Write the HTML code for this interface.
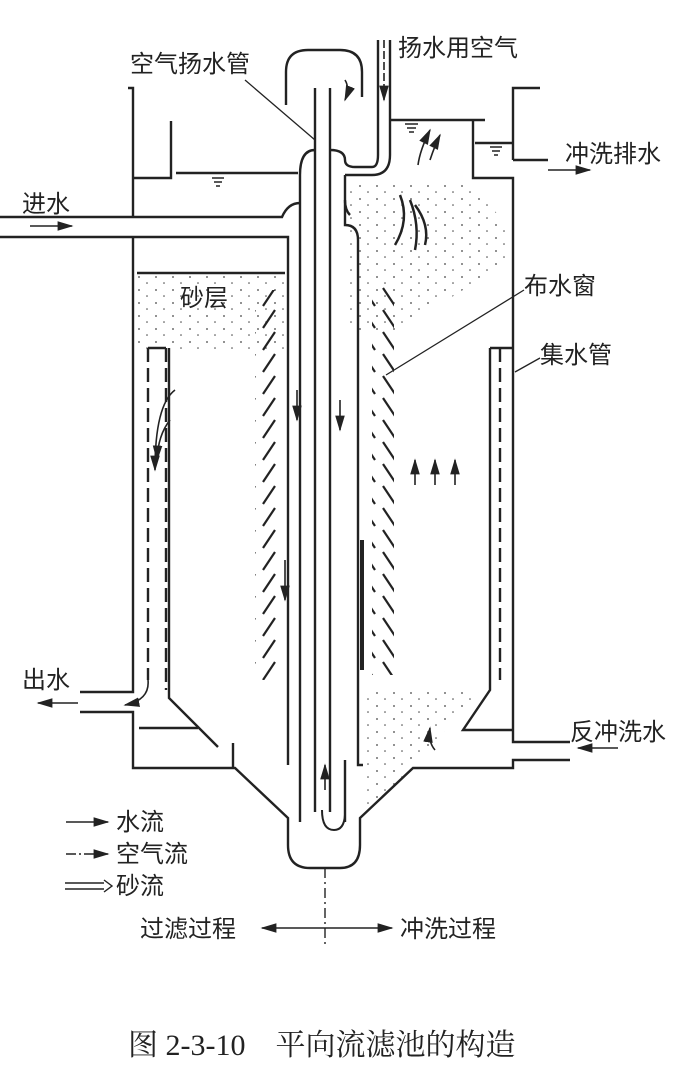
<!DOCTYPE html>
<html><head><meta charset="utf-8"><style>
html,body{margin:0;padding:0;background:#fff;}
svg{display:block;}
text{font-family:"Liberation Sans","Noto Sans CJK SC",sans-serif;fill:#222;}
</style></head><body>
<svg width="697" height="1092" viewBox="0 0 697 1092" xmlns="http://www.w3.org/2000/svg">
<defs>
<pattern id="hl" patternUnits="userSpaceOnUse" width="20" height="22"><line x1="3" y1="20" x2="15" y2="2" stroke="#222" stroke-width="2.2"/></pattern>
<pattern id="hr" patternUnits="userSpaceOnUse" width="20" height="22"><line x1="3" y1="2" x2="15" y2="20" stroke="#222" stroke-width="2.2"/></pattern>
<pattern id="dots" patternUnits="userSpaceOnUse" width="17" height="13"><circle cx="3" cy="4" r="0.9" fill="#444"/><circle cx="11" cy="10" r="0.8" fill="#444"/></pattern>
<marker id="ar" markerWidth="10" markerHeight="8" refX="9" refY="4" orient="auto"><path d="M0,1 L10,4 L0,7 z" fill="#222"/></marker>
</defs>
<g fill="none" stroke="#222" stroke-width="2.4">
<rect x="137" y="275" width="148" height="75" fill="url(#dots)" stroke="none"/>
<path d="M350 180 L470 180 L510 230 L510 260 L400 330 L350 330 z" fill="url(#dots)" stroke="none"/>
<path d="M370 690 L480 690 L415 765 L362 815 L362 700 z" fill="url(#dots)" stroke="none"/>
<path d="M128 88 H133 V217"/>
<path d="M171 121 V178 H133"/>
<path d="M133 237 V692 H80"/>
<path d="M80 712 H133 V768 H235 L288 818 V845 Q288 868 310 868 H340 Q360 868 360 845 V818 L413 768 H513 V760 H570"/>
<path d="M570 742 H513 V178 H473 V120"/>
<path d="M513 160 V88 H540"/>
<path d="M513 160 H548"/>
<path d="M390 120 H485"/>
<path d="M475 143 H513"/>
<path d="M176 173 H298"/>
<path d="M0 217 H282 Q288 203 300 203"/>
<path d="M0 237 H288 V700"/>
<path d="M137 273 H285"/>
<path d="M286 105 V72 Q286 50 308 50 H340 Q362 50 362 72 V97"/>
<path d="M315 88 V812"/>
<path d="M330 88 V812"/>
<path d="M300 175 Q300 150 315 150"/>
<path d="M300 175 V822"/>
<path d="M330 150 Q345 150 345 160"/>
<path d="M345 175 V225 Q358 225 358 240 V700"/>
<path d="M345 160 Q345 167 355 167 H372 Q378 167 378 155 V40"/>
<path d="M345 175 H372 Q390 175 390 155 V40"/>
<path d="M345 200 Q345 210 350 215"/>
<path d="M288 700 V765"/>
<path d="M358 700 V765 H363"/>
<path d="M345 760 V822"/>
<path d="M169 348 V698 L218 747"/>
<path d="M139 728 H198"/>
<path d="M233 743 V768"/>
<path d="M490 348 V690 L463 730 H513"/>
<path d="M148 348 V680" stroke-dasharray="14 6"/>
<path d="M148 348 H166" />
<path d="M166 348 V690" stroke-dasharray="14 6"/>
<path d="M490 348 H512"/>
<path d="M500 348 V680" stroke-dasharray="14 6"/>
</g>
<rect x="255" y="290" width="22" height="390" fill="url(#hl)"/>
<rect x="372" y="285" width="22" height="390" fill="url(#hr)"/>
<g fill="none" stroke="#222" stroke-width="1.5">
<path d="M212 178 L224 178 M214 182 H222 M216 186 H220"/>
<path d="M405 124 L418 124 M407 128 H416 M409 132 H414"/>
<path d="M490 147 H502 M492 151 H500 M494 155 H498"/>
</g>
<g stroke="#222" stroke-width="1.6" fill="none" marker-end="url(#ar)">
<line x1="30" y1="226" x2="72" y2="226"/>
<line x1="548" y1="170" x2="590" y2="170"/>
<line x1="78" y1="703" x2="38" y2="703"/>
<line x1="618" y1="748" x2="578" y2="748"/>
<path d="M148 680 Q150 700 125 705"/>
<path d="M435 750 Q428 742 430 728"/>
<line x1="415" y1="485" x2="415" y2="460"/>
<line x1="435" y1="485" x2="435" y2="460"/>
<line x1="455" y1="485" x2="455" y2="460"/>
<path d="M175 390 Q155 405 155 470"/>
<path d="M170 420 Q158 435 157 460"/>
<path d="M430 160 Q435 145 440 135"/>
<path d="M418 165 Q420 150 430 130"/>
<line x1="297" y1="390" x2="297" y2="420"/>
<line x1="340" y1="400" x2="340" y2="430"/>
<line x1="285" y1="560" x2="285" y2="600"/>
<line x1="325" y1="790" x2="325" y2="765"/>
<path d="M345 80 Q350 88 345 100"/>
<path d="M384 40 V100" stroke-dasharray="8 3"/>
<line x1="66" y1="822" x2="108" y2="822"/>
<line x1="66" y1="854" x2="108" y2="854" stroke-dasharray="10 3 2 3"/>
<line x1="325" y1="928" x2="262" y2="928"/>
<line x1="325" y1="928" x2="392" y2="928"/>
</g>
<path d="M65 883 H104 M65 889 H104 M104 880 L112 886 L104 892" fill="none" stroke="#222" stroke-width="1.4"/>
<path d="M322 810 Q322 830 334 830 Q344 830 345 815" fill="none" stroke="#222" stroke-width="2"/>
<path d="M400 195 Q410 220 395 245 M410 200 Q420 225 415 250 M415 205 Q430 225 425 245" fill="none" stroke="#222" stroke-width="2.5"/>
<path d="M362 540 V670" stroke="#222" stroke-width="4"/>
<line x1="325" y1="868" x2="325" y2="945" stroke="#222" stroke-width="1.4" stroke-dasharray="10 4 2 4"/>
<g stroke="#222" stroke-width="1.3">
<line x1="245" y1="80" x2="315" y2="140"/>
<line x1="524" y1="290" x2="386" y2="375"/>
<line x1="540" y1="358" x2="515" y2="372"/>
</g>
<g font-size="24">
<text x="398" y="56">扬水用空气</text>
<text x="130" y="72">空气扬水管</text>
<text x="22" y="212">进水</text>
<text x="565" y="162">冲洗排水</text>
<text x="180" y="306">砂层</text>
<text x="524" y="294">布水窗</text>
<text x="540" y="363">集水管</text>
<text x="22" y="688">出水</text>
<text x="570" y="740">反冲洗水</text>
<text x="116" y="830">水流</text>
<text x="116" y="862">空气流</text>
<text x="116" y="894">砂流</text>
<text x="140" y="937">过滤过程</text>
<text x="400" y="937">冲洗过程</text>
</g>
<text x="128" y="1055" font-size="30" style="font-family:'Liberation Serif','Noto Serif CJK SC',serif">图 2-3-10　平向流滤池的构造</text>
</svg>
</body></html>
